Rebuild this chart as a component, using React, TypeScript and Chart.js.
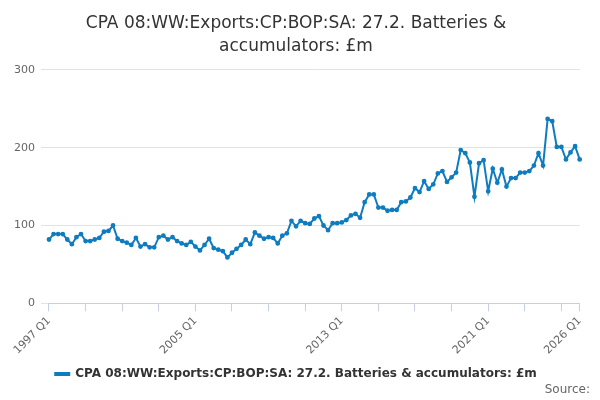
import React, { useEffect, useRef } from "react";
import { Chart, registerables } from "chart.js";
Chart.register(...registerables);

const startYear = 1997;
const endYear = 2026;
const values: number[] = [
  82,89,89,89,82,76,85,89,80,80,
  82,84,92,93,100,83,80,78,75,84,
  73,76,72,72,85,87,82,85,80,77,
  75,79,73,68,75,83,71,69,67,59,
  65,70,75,82,76,91,87,83,85,84,
  77,87,90,106,99,
  106,103,102,109,112,100,94,103,103,104,
  107,113,115,110,130,140,140,123,123,119,
  120,120,130,131,136,148,143,157,147,153,
  167,170,156,162,168,197,193,181,137,180,
  184,144,173,155,172,150,161,161,168,168,
  170,177,193,177,237,234,201,201,185,194,
  202,185,
];
const labels: string[] = [];
for (let y = startYear; y <= endYear; y++) for (let q = 1; q <= 4; q++) if (labels.length < values.length) labels.push(`${y} Q${q}`);
const seriesName = "CPA 08:WW:Exports:CP:BOP:SA: 27.2. Batteries & accumulators: £m";
const titleLines = ["CPA 08:WW:Exports:CP:BOP:SA: 27.2. Batteries &", "accumulators: £m"];

export default function App() {
  const ref = useRef<HTMLCanvasElement>(null);
  useEffect(() => {
    const last = labels.length - 1;
    const chart = new Chart(ref.current!, {
      type: "line",
      data: {
        labels,
        datasets: [{
          label: seriesName, data: values, borderColor: "#0f7cc0", backgroundColor: "#0f7cc0",
          borderWidth: 2, pointRadius: 1.4, pointHoverRadius: 3, tension: 0,
        }],
      },
      options: {
        animation: false, responsive: false, maintainAspectRatio: false,
        layout: { padding: { left: 0, right: 8, top: 0, bottom: 10 } },
        plugins: {
          title: { display: true, text: titleLines, color: "#333", font: { family: "DejaVu Sans", size: 17, weight: "normal", lineHeight: 1.35 }, padding: { top: 4, bottom: 12 } },
          legend: { position: "bottom", labels: { color: "#333", font: { family: "DejaVu Sans", size: 12, weight: "bold" }, boxWidth: 14, boxHeight: 2, padding: 8 } },
          tooltip: { enabled: false },
        },
        scales: {
          x: {
            grid: { drawOnChartArea: false, tickLength: 8, color: (c: any) => (c.index % 8 === 0 || c.index === last ? "#c5d0e0" : "transparent") },
            border: { color: "#c5d0e0" },
            ticks: {
              autoSkip: false, maxRotation: 45, minRotation: 45, color: "#666", font: { family: "DejaVu Sans", size: 11 },
              callback: (_v: any, i: number) => (i % 32 === 0 || i === last ? labels[i] : ""),
            },
          },
          y: {
            min: 0, max: 300, ticks: { stepSize: 100, color: "#666", font: { family: "DejaVu Sans", size: 11 }, padding: 6 },
            grid: { color: "#e2e2e2" }, border: { display: false },
          },
        },
      },
    });
    return () => chart.destroy();
  }, []);
  return (
    <div style={{ position: "relative", width: 584, height: 392 }}>
      <canvas ref={ref} width={584} height={392} />
      <div style={{ position: "absolute", right: 2, bottom: 4, fontFamily: "DejaVu Sans", fontSize: 12, color: "#666" }}>Source:</div>
    </div>
  );
}
